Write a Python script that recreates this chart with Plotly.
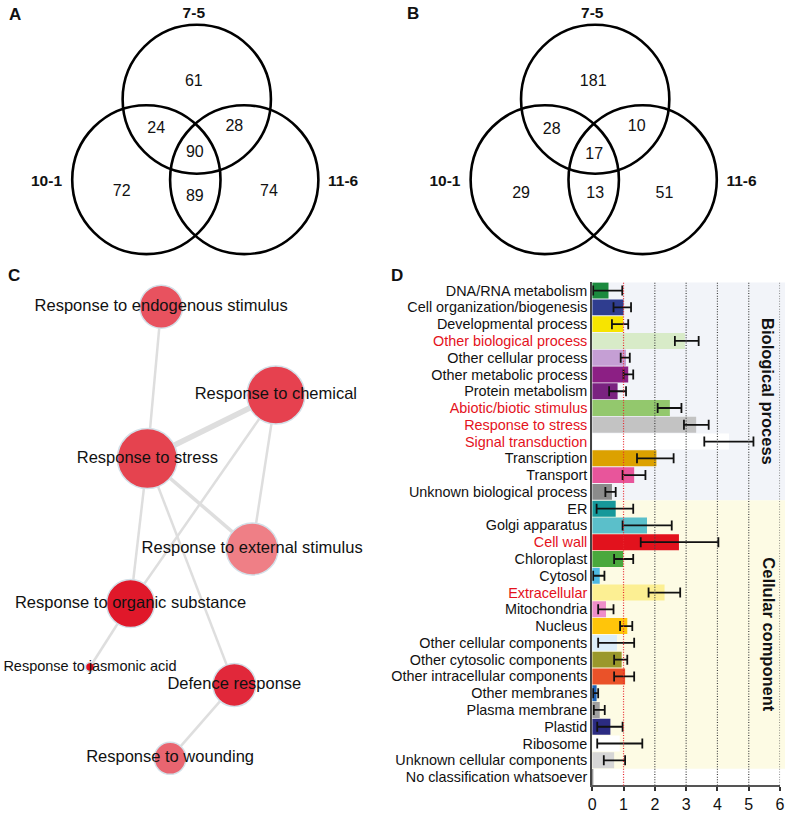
import numpy as np
import plotly.graph_objects as go

# ---------------- DATA ----------------
# Panels A/B: Venn diagrams
venn_sets = ["7-5", "10-1", "11-6"]
venn_regions = ["7-5 only", "7-5 & 10-1", "7-5 & 11-6", "7-5 & 10-1 & 11-6",
                "10-1 only", "10-1 & 11-6", "11-6 only"]
venn_A_counts = [61, 24, 28, 90, 72, 89, 74]
venn_B_counts = [181, 28, 10, 17, 29, 13, 51]

# Panel C: GO-term network
go_terms = ["Response to endogenous stimulus", "Response to chemical", "Response to stress",
            "Response to external stimulus", "Response to organic substance",
            "Response to jasmonic acid", "Defence response", "Response to wounding"]
term_node_size = [43, 58, 60, 52, 48, 9, 43, 32]
term_color = ["#e8525f", "#e6414f", "#e5434f", "#ef7f86", "#e0182a", "#e01020", "#e1283a", "#e96570"]
edge_from = ["Response to endogenous stimulus", "Response to chemical", "Response to chemical",
             "Response to chemical", "Response to stress", "Response to stress",
             "Response to stress", "Response to organic substance", "Defence response"]
edge_to = ["Response to stress", "Response to stress", "Response to organic substance",
           "Response to external stimulus", "Response to external stimulus",
           "Response to organic substance", "Defence response",
           "Response to jasmonic acid", "Response to wounding"]
edge_weight = [2.5, 5.5, 2.5, 2.5, 3.5, 2.5, 2.5, 2.5, 2.5]

# Panel D: functional categories (fold enrichment with error range)
categories = ["DNA/RNA metabolism", "Cell organization/biogenesis", "Developmental process",
              "Other biological process", "Other cellular process", "Other metabolic process",
              "Protein metabolism", "Abiotic/biotic stimulus", "Response to stress",
              "Signal transduction", "Transcription", "Transport", "Unknown biological process",
              "ER", "Golgi apparatus", "Cell wall", "Chloroplast", "Cytosol", "Extracellular",
              "Mitochondria", "Nucleus", "Other cellular components", "Other cytosolic components",
              "Other intracellular components", "Other membranes", "Plasma membrane", "Plastid",
              "Ribosome", "Unknown cellular components", "No classification whatsoever"]
fold_values = [0.52, 1.00, 0.99, 2.96, 1.08, 1.15, 0.81, 2.48, 3.32, 4.37, 2.05, 1.34, 0.63,
               0.75, 1.75, 2.77, 0.99, 0.24, 2.31, 0.44, 1.12, 0.79, 0.94, 1.05, 0.14, 0.24,
               0.58, 0.88, 0.70, 0.03]
err_low = [0.03, 0.68, 0.63, 2.64, 0.91, 1.00, 0.54, 2.09, 2.93, 3.58, 1.43, 0.97, 0.42,
           0.14, 0.97, 1.55, 0.70, 0.03, 1.80, 0.19, 0.89, 0.19, 0.70, 0.70, 0.03, 0.05,
           0.16, 0.16, 0.37, None]
err_high = [0.96, 1.24, 1.15, 3.40, 1.20, 1.31, 1.08, 2.85, 3.72, 5.15, 2.60, 1.70, 0.75,
            1.31, 2.54, 4.03, 1.31, 0.39, 2.81, 0.68, 1.28, 1.34, 1.12, 1.34, 0.19, 0.40,
            0.97, 1.60, 1.05, None]
significant = [False, False, False, True, False, False, False, True, True, True, False, False, False,
               False, False, True, False, False, True, False, False, False, False, False, False,
               False, False, False, False, False]
bar_colors = ["#1b8a3e", "#2f3d8f", "#f7e400", "#d8ebc8", "#c59fd4", "#8c1f84", "#7a2280",
              "#93c86d", "#c3c3c3", "#ffffff", "#dca100", "#e8559b", "#8b8b8b",
              "#16989a", "#5bbfca", "#e2121d", "#4aa83d", "#4db8e2", "#fcef93", "#ee8dc9",
              "#ffc50a", "#dbeef9", "#9a982b", "#ea5229", "#1b5fb5", "#a0a0a0", "#2b2b82",
              "#ffffff", "#d6d6d6", "#555555"]
group_names = ["Biological process", "Cellular component"]
group_sizes = [13, 16]
x_ticks = [0, 1, 2, 3, 4, 5, 6]

# ---------------- LAYOUT CONSTANTS (pixels) ----------------
W, H = 790, 813
FONT = "Liberation Sans, Arial, Helvetica, sans-serif"
R_VENN = 75
venn_panels = {
    "A": dict(cx=195, cy=100, counts=venn_A_counts,
              offs=[(-3, -17), (-41, 30), (38, 28), (-2, 54), (-76, 93), (-2, 98), (73, 93)]),
    "B": dict(cx=598, cy=100, counts=venn_B_counts,
              offs=[(-2, -17), (-44, 31), (42, 28), (-1, 56), (-75, 95), (0, 95), (70, 95)]),
}
circle_offs = [(0, 0), (-51, 81), (48, 81)]
set_label_offs = [(-3, -86), (-152, 83), (148, 83)]
node_pos = {
    "Response to endogenous stimulus": (159, 309),
    "Response to chemical": (275, 398),
    "Response to stress": (145, 462),
    "Response to external stimulus": (251, 553),
    "Response to organic substance": (128, 608),
    "Response to jasmonic acid": (87, 672),
    "Defence response": (233, 690),
    "Response to wounding": (168, 764),
}
label_font_size = [16.5 if t != "Response to jasmonic acid" else 14.5 for t in go_terms]
D_X0, D_X1 = 595, 785
D_Y0, D_Y1 = 284.3, 791.3

fig = go.Figure()
shapes, annotations = [], []

# ---------------- Venn diagrams ----------------
for letter, p in venn_panels.items():
    for (dx, dy) in circle_offs:
        shapes.append(dict(type="circle", xref="x", yref="y",
                           x0=p["cx"] + dx - R_VENN, x1=p["cx"] + dx + R_VENN,
                           y0=p["cy"] + dy - R_VENN, y1=p["cy"] + dy + R_VENN,
                           line=dict(color="black", width=2.6)))
    fig.add_trace(go.Scatter(
        x=[p["cx"] + o[0] for o in p["offs"]], y=[p["cy"] + o[1] for o in p["offs"]],
        text=[str(c) for c in p["counts"]], mode="text", textposition="middle center",
        textfont=dict(family=FONT, size=16, color="#111"), hoverinfo="skip",
        showlegend=False, xaxis="x", yaxis="y"))
    fig.add_trace(go.Scatter(
        x=[p["cx"] + o[0] for o in set_label_offs], y=[p["cy"] + o[1] for o in set_label_offs],
        text=[f"<b>{s}</b>" for s in venn_sets], mode="text", textposition="middle center",
        textfont=dict(family=FONT, size=15.5, color="#111"), hoverinfo="skip",
        showlegend=False, xaxis="x", yaxis="y"))

# ---------------- Network ----------------
for a, b, w in zip(edge_from, edge_to, edge_weight):
    (xa, ya), (xb, yb) = node_pos[a], node_pos[b]
    fig.add_trace(go.Scatter(x=[xa, xb], y=[ya, yb], mode="lines",
                             line=dict(color="#dedede", width=w), hoverinfo="skip",
                             showlegend=False, xaxis="x", yaxis="y"))
fig.add_trace(go.Scatter(
    x=[node_pos[t][0] for t in go_terms], y=[node_pos[t][1] for t in go_terms],
    mode="markers", marker=dict(size=term_node_size, color=term_color, opacity=1,
                                line=dict(color="#d3e0e8", width=1.5)),
    hovertext=go_terms, showlegend=False, xaxis="x", yaxis="y"))
fig.add_trace(go.Scatter(
    x=[node_pos[t][0] for t in go_terms], y=[node_pos[t][1] for t in go_terms],
    mode="text", text=go_terms, textposition="middle center",
    textfont=dict(family=FONT, size=label_font_size, color="#111"),
    hoverinfo="skip", showlegend=False, xaxis="x", yaxis="y"))

# ---------------- Panel D bars ----------------
v = np.array(fold_values, dtype=float)
lo = np.array([np.nan if e is None else e for e in err_low], dtype=float)
hi = np.array([np.nan if e is None else e for e in err_high], dtype=float)
fig.add_trace(go.Bar(
    y=categories, x=v, orientation="h", marker=dict(color=bar_colors, line=dict(width=0)),
    error_x=dict(type="data", symmetric=False, array=hi - v, arrayminus=v - lo,
                 color="#111", thickness=1.8, width=5),
    showlegend=False, xaxis="x2", yaxis="y2"))

# background bands
b0 = -0.5
band_cols = ["#f2f4f9", "#fdfbe4"]
for gs, col in zip(group_sizes, band_cols):
    shapes.append(dict(type="rect", xref="paper", yref="y2", x0=D_X0 / W, x1=1,
                       y0=b0, y1=b0 + gs, fillcolor=col, line=dict(width=0), layer="below"))
    b0 += gs
# dotted reference lines
for t in x_ticks[1:]:
    shapes.append(dict(type="line", xref="x2", yref="y2 domain", x0=t, x1=t, y0=0, y1=1,
                       line=dict(color="#e8262e" if t == 1 else "#444444", width=1.2,
                                 dash="1px,1.6px"),
                       layer="above"))
# group labels (rotated)
b0 = -0.5
for name, gs in zip(group_names, group_sizes):
    annotations.append(dict(text=f"<b>{name}</b>", xref="x", yref="y2", x=773, y=b0 + gs / 2,
                            textangle=90, showarrow=False,
                            font=dict(family=FONT, size=16.5, color="#111")))
    b0 += gs

ticktext = [f'<span style="color:#e4121c">{c}</span>' if s else c
            for c, s in zip(categories, significant)]

# panel letters
for letter, (px, py) in {"A": (11, 15), "B": (414, 14), "C": (10, 278), "D": (398, 278)}.items():
    annotations.append(dict(text=f"<b>{letter}</b>", xref="x", yref="y", x=px, y=py,
                            showarrow=False, font=dict(family=FONT, size=17, color="#111")))

fig.update_layout(
    width=W, height=H, margin=dict(l=0, r=0, t=0, b=0),
    paper_bgcolor="white", plot_bgcolor="rgba(0,0,0,0)",
    font=dict(family=FONT, color="#111"),
    bargap=0.05, showlegend=False,
    xaxis=dict(domain=[0, 1], range=[0, W], visible=False, fixedrange=True),
    yaxis=dict(domain=[0, 1], range=[H, 0], visible=False, fixedrange=True),
    xaxis2=dict(domain=[D_X0 / W, D_X1 / W], range=[0, 6], anchor="y2",
                tickvals=x_ticks, ticks="outside", ticklen=4, tickwidth=1.5, tickcolor="#333",
                showline=True, linecolor="#555", linewidth=1.5, showgrid=False, zeroline=False,
                tickfont=dict(family=FONT, size=16, color="#111")),
    yaxis2=dict(domain=[1 - D_Y1 / H, 1 - D_Y0 / H], anchor="x2", range=[29.5, -0.5],
                tickvals=categories, ticktext=ticktext, ticks="", showline=True,
                linecolor="#444", linewidth=2, showgrid=False, zeroline=False,
                tickfont=dict(family=FONT, size=14.4, color="#111")),
    shapes=shapes, annotations=annotations,
)

fig.write_html("out.html", config={"displayModeBar": False},
               post_script="document.body.style.margin='0';")
